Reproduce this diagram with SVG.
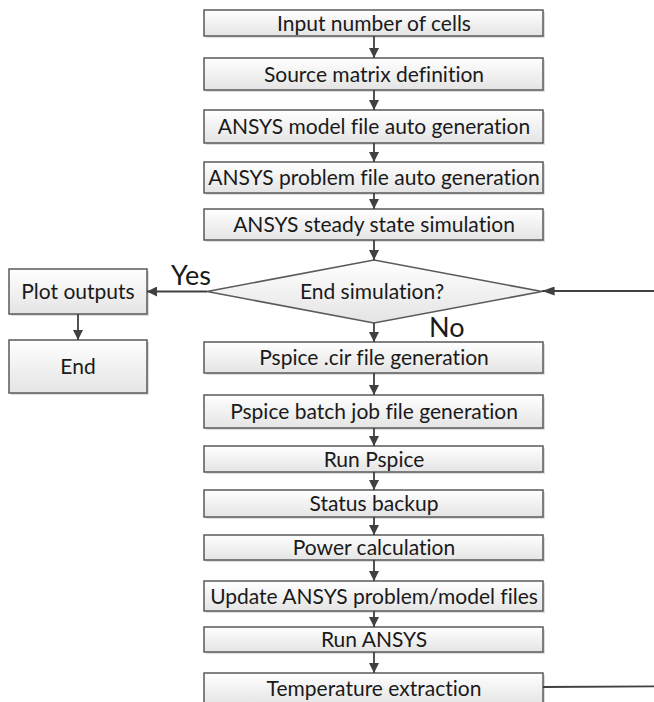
<svg xmlns="http://www.w3.org/2000/svg" width="654" height="702" viewBox="0 0 654 702">
<defs>
<linearGradient id="g" x1="0" y1="0" x2="0" y2="1">
<stop offset="0" stop-color="#ffffff"/>
<stop offset="1" stop-color="#e4e4e4"/>
</linearGradient>
<marker id="ah" viewBox="0 0 10 10" refX="10" refY="5" markerWidth="10" markerHeight="10" markerUnits="userSpaceOnUse" orient="auto">
<path d="M0,0 L10,5 L0,10 Z" fill="#404040"/>
</marker>
<marker id="ahw" viewBox="0 0 14 10" refX="14" refY="5" markerWidth="14" markerHeight="9" markerUnits="userSpaceOnUse" orient="auto">
<path d="M0,0 L14,5 L0,10 Z" fill="#404040"/>
</marker>
</defs>
<style>
.b{fill:url(#g);stroke:#5a5a5a;stroke-width:1.5}
.s{fill:#c8c8c8;stroke:none;opacity:0.6}
.t{font-family:Lato,"Open Sans","Liberation Sans",sans-serif;font-size:21px;fill:#1a1a1a;text-anchor:middle;font-variant-ligatures:none}
.l{font-family:Lato,"Open Sans","Liberation Sans",sans-serif;font-size:27px;fill:#1a1a1a}
.c{fill:none;stroke:#404040;stroke-width:1.8}
</style>
<rect width="654" height="702" fill="#ffffff"/>

<g id="n1"><rect class="s" x="206" y="12" width="339" height="26"/><rect class="b" x="204" y="10" width="339" height="26"/><text class="t" x="374" y="30.5">Input number of cells</text></g>
<g id="n2"><rect class="s" x="206" y="60" width="339" height="32"/><rect class="b" x="204" y="58" width="339" height="32"/><text class="t" x="374" y="81.5">Source matrix definition</text></g>
<g id="n3"><rect class="s" x="206" y="112" width="339" height="33"/><rect class="b" x="204" y="110" width="339" height="33"/><text class="t" x="374" y="134">ANSYS model file auto generation</text></g>
<g id="n4"><rect class="s" x="206" y="164" width="339" height="31"/><rect class="b" x="204" y="162" width="339" height="31"/><text class="t" x="374" y="185">ANSYS problem file auto generation</text></g>
<g id="n5"><rect class="s" x="206" y="211" width="339" height="31"/><rect class="b" x="204" y="209" width="339" height="31"/><text class="t" x="374" y="232">ANSYS steady state simulation</text></g>
<g id="d1"><path class="b" d="M374,260 L542,291.5 L374,323 L207,291.5 Z"/><text class="t" x="372" y="299">End simulation?</text></g>
<g id="p1"><rect class="s" x="11" y="271" width="138" height="45"/><rect class="b" x="9" y="269" width="138" height="45"/><text class="t" x="78" y="299">Plot outputs</text></g>
<g id="e1"><rect class="s" x="11" y="342" width="138" height="53"/><rect class="b" x="9" y="340" width="138" height="53"/><text class="t" x="78" y="374">End</text></g>
<g id="n6"><rect class="s" x="206" y="344" width="339" height="31"/><rect class="b" x="204" y="342" width="339" height="31"/><text class="t" x="374" y="365">Pspice .cir file generation</text></g>
<g id="n7"><rect class="s" x="206" y="397" width="339" height="33"/><rect class="b" x="204" y="395" width="339" height="33"/><text class="t" x="374" y="419">Pspice batch job file generation</text></g>
<g id="n8"><rect class="s" x="206" y="448" width="339" height="26"/><rect class="b" x="204" y="446" width="339" height="26"/><text class="t" x="374" y="466.5">Run Pspice</text></g>
<g id="n9"><rect class="s" x="206" y="492" width="339" height="27"/><rect class="b" x="204" y="490" width="339" height="27"/><text class="t" x="374" y="511">Status backup</text></g>
<g id="n10"><rect class="s" x="206" y="537" width="339" height="25"/><rect class="b" x="204" y="535" width="339" height="25"/><text class="t" x="374" y="555">Power calculation</text></g>
<g id="n11"><rect class="s" x="206" y="583" width="339" height="30"/><rect class="b" x="204" y="581" width="339" height="30"/><text class="t" x="374" y="603.5">Update ANSYS problem/model files</text></g>
<g id="n12"><rect class="s" x="206" y="629" width="339" height="25"/><rect class="b" x="204" y="627" width="339" height="25"/><text class="t" x="374" y="647">Run ANSYS</text></g>
<g id="n13"><rect class="s" x="206" y="675" width="339" height="32"/><rect class="b" x="204" y="673" width="339" height="32"/><text class="t" x="374" y="695.5">Temperature extraction</text></g>

<g id="connectors">
<line class="c" x1="374" y1="36" x2="374" y2="58" marker-end="url(#ah)"/>
<line class="c" x1="374" y1="90" x2="374" y2="110" marker-end="url(#ah)"/>
<line class="c" x1="374" y1="143" x2="374" y2="162" marker-end="url(#ah)"/>
<line class="c" x1="374" y1="193" x2="374" y2="209" marker-end="url(#ah)"/>
<line class="c" x1="374" y1="240" x2="374" y2="260" marker-end="url(#ah)"/>
<line class="c" x1="374" y1="323" x2="374" y2="342" marker-end="url(#ah)"/>
<line class="c" x1="374" y1="373" x2="374" y2="395" marker-end="url(#ah)"/>
<line class="c" x1="374" y1="428" x2="374" y2="446" marker-end="url(#ah)"/>
<line class="c" x1="374" y1="472" x2="374" y2="490" marker-end="url(#ah)"/>
<line class="c" x1="374" y1="517" x2="374" y2="535" marker-end="url(#ah)"/>
<line class="c" x1="374" y1="560" x2="374" y2="581" marker-end="url(#ah)"/>
<line class="c" x1="374" y1="611" x2="374" y2="627" marker-end="url(#ah)"/>
<line class="c" x1="374" y1="652" x2="374" y2="673" marker-end="url(#ah)"/>
<line class="c" x1="207" y1="291.5" x2="147" y2="291.5" marker-end="url(#ah)"/>
<line class="c" x1="78" y1="314" x2="78" y2="340" marker-end="url(#ah)"/>
<path class="c" d="M543,687 L700,686 L700,291 L542,291" marker-end="url(#ahw)"/>
<text class="l" x="171" y="285">Yes</text>
<text class="l" x="429" y="337">No</text>
</g>
</svg>
